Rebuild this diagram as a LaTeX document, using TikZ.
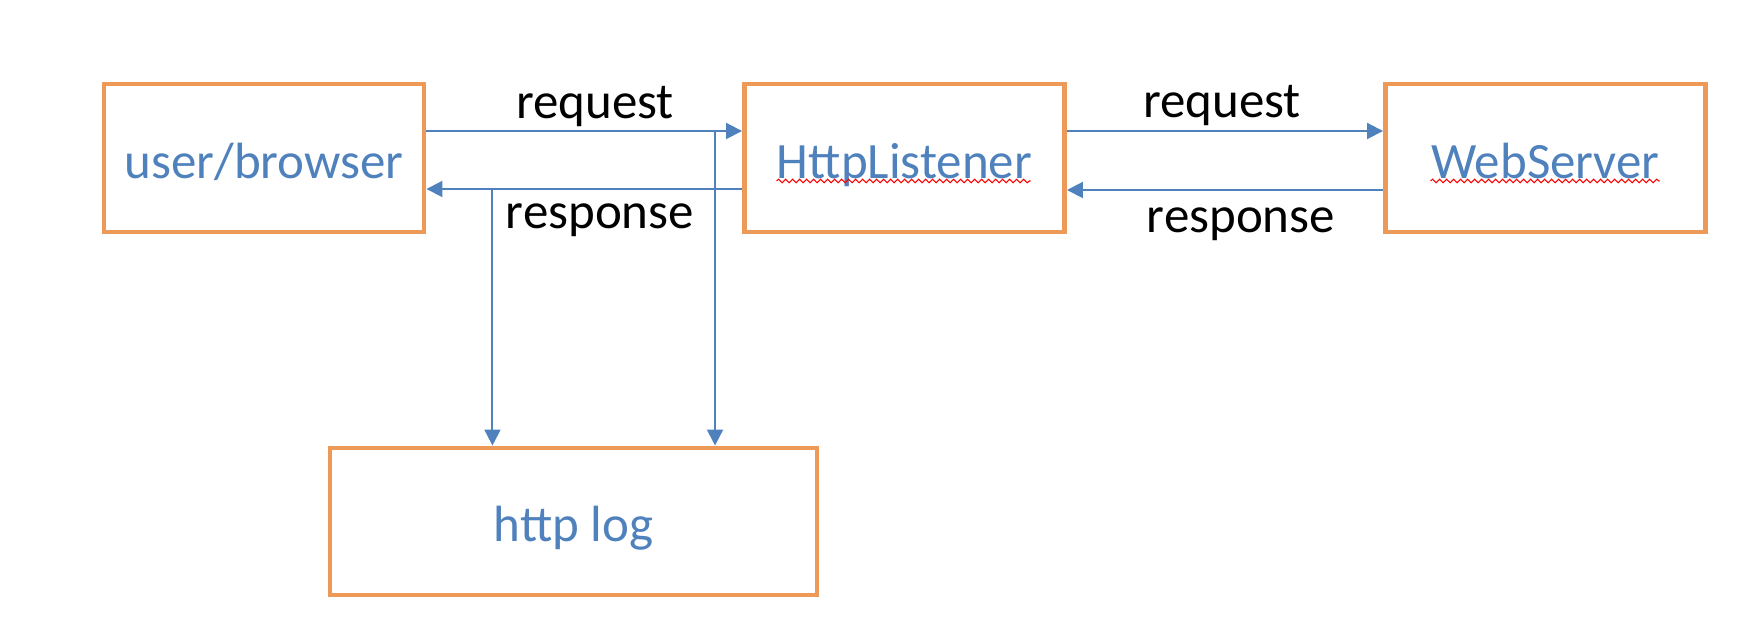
\documentclass[tikz,border=0pt]{standalone}
\usepackage{fontspec}
\setmainfont{Carlito}
\usetikzlibrary{arrows.meta,positioning,calc,decorations.pathmorphing}
\definecolor{boxorange}{RGB}{237,153,87}
\definecolor{linkblue}{RGB}{79,129,189}

\begin{document}
\begin{tikzpicture}[
    comp/.style={draw=boxorange, line width=1.4pt, rectangle, minimum width=3.2cm, minimum height=1.48cm, align=center, text=linkblue, text height=11.5pt, text depth=0pt, font=\fontsize{14.5}{17}\selectfont},
    link/.style={draw=linkblue, line width=0.55pt, -{Triangle[length=1.6mm,width=1.6mm]}},
    lbl/.style={anchor=base, inner sep=0pt, font=\fontsize{14.5}{17}\selectfont},
    squiggle/.style={draw=red, line width=0.3pt, decorate, decoration={snake, amplitude=0.18mm, segment length=0.7mm}}]

    \useasboundingbox (0,0) rectangle (17.6,6.32);

    \node[comp] (browser) at (2.64,4.74) {user/browser};
    \node[comp] (listener) at (9.045,4.74) {HttpListener};
    \node[comp] (server) at (15.455,4.74) {WebServer};
    \node[comp, minimum width=4.87cm, minimum height=1.47cm] (log) at (5.735,1.105) {http log};

    \draw[squiggle] ([xshift=-12.8mm,yshift=-2.3mm]listener.center) -- ([xshift=12.6mm,yshift=-2.3mm]listener.center);
    \draw[squiggle] ([xshift=-11.5mm,yshift=-2.3mm]server.center) -- ([xshift=11.4mm,yshift=-2.3mm]server.center);

    \draw[link] ([yshift=2.7mm]browser.east) -- ([yshift=2.7mm]listener.west);
    \draw[link] ([yshift=-3.1mm]listener.west) -- ([yshift=-3.1mm]browser.east);
    \draw[link] ([yshift=2.7mm]listener.east) -- ([yshift=2.7mm]server.west);
    \draw[link] ([yshift=-3.2mm]server.west) -- ([yshift=-3.2mm]listener.east);

    \path ([yshift=-3.1mm]browser.east) ++(0.66,0) coordinate (tapresp);
    \path ([yshift=2.7mm]listener.west) ++(-0.27,0) coordinate (tapreq);
    \draw[link] (tapresp) -- (tapresp |- log.north);
    \draw[link] (tapreq) -- (tapreq |- log.north);

    \node[lbl] (reqa) at (5.95,5.13) {request};
    \node[lbl] (respa) at (6.00,4.035) {response};
    \node[lbl] (reqb) at (12.22,5.145) {request};
    \node[lbl] (respb) at (12.41,3.99) {response};
\end{tikzpicture}
\end{document}
